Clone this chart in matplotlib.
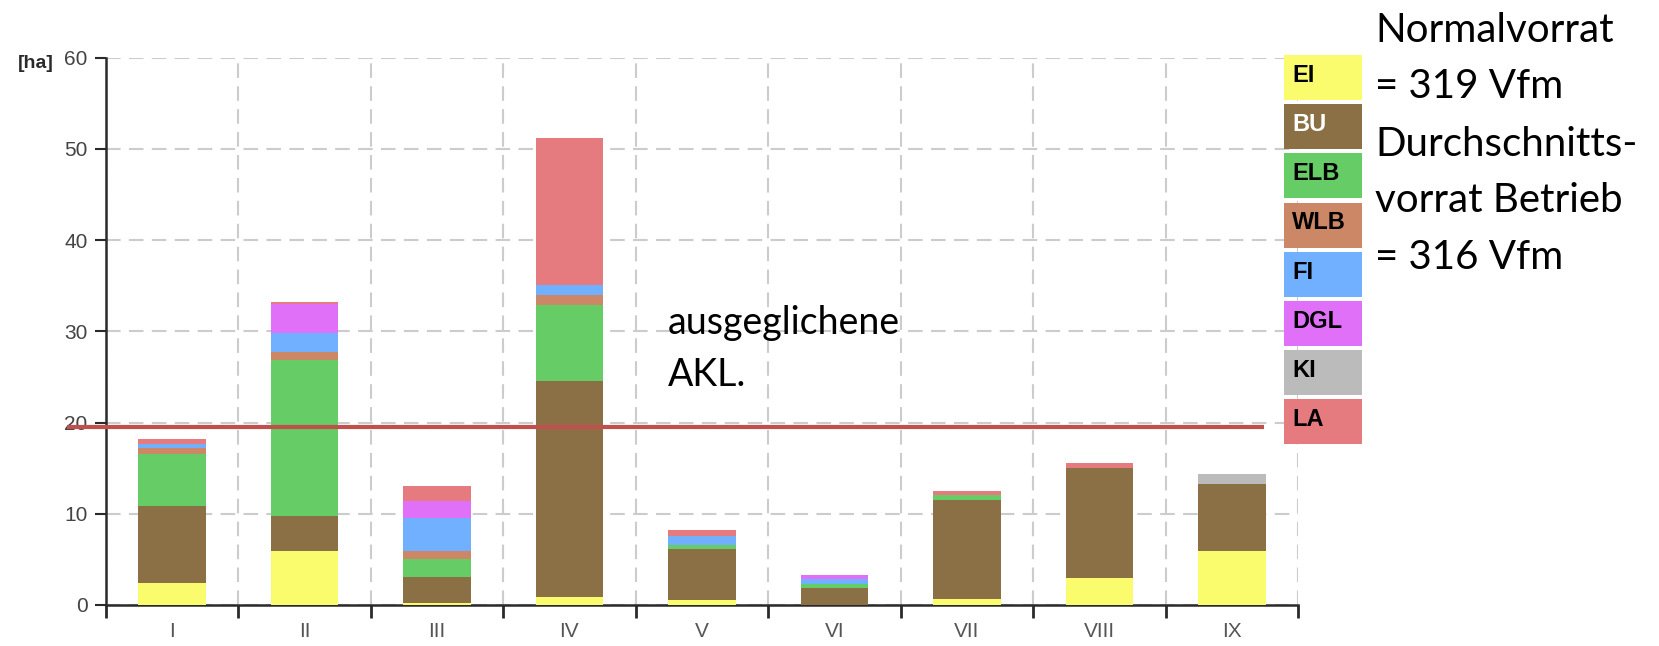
import matplotlib.pyplot as plt
import numpy as np
from matplotlib.patches import Rectangle

# Flächen je Altersklasse und Baumart [ha], von unten nach oben gestapelt
categories = ["I", "II", "III", "IV", "V", "VI", "VII", "VIII", "IX"]
species = ["EI", "BU", "ELB", "WLB", "FI", "DGL", "KI", "LA"]
ei = [2.4, 5.9, 0.2, 0.85, 0.6, 0.05, 0.65, 3.0, 5.95]
bu = [8.5, 3.9, 2.85, 23.65, 5.5, 1.8, 10.9, 12.05, 7.3]
elb = [5.6, 17.1, 1.95, 8.4, 0.45, 0.45, 0.5, 0.0, 0.0]
wlb = [0.7, 0.8, 0.9, 1.1, 0.0, 0.0, 0.0, 0.0, 0.0]
fi = [0.4, 2.1, 3.6, 1.1, 1.0, 0.5, 0.0, 0.0, 0.0]
dgl = [0.0, 3.2, 1.9, 0.0, 0.0, 0.5, 0.0, 0.0, 0.0]
ki = [0.0, 0.0, 0.0, 0.0, 0.0, 0.0, 0.0, 0.0, 1.1]
la = [0.6, 0.2, 1.6, 16.1, 0.65, 0.0, 0.45, 0.55, 0.0]
akl_level = 19.5  # ausgeglichene Altersklasse

colors = ["#fbfb6e", "#8b7045", "#66cc66", "#cc8866", "#70b0ff", "#e070f8", "#bbbbbb", "#e57b7e"]
label_colors = ["black", "white", "black", "black", "black", "black", "black", "black"]

side_text = ["Normalvorrat", "= 319 Vfm", "Durchschnitts-", "vorrat Betrieb", "= 316 Vfm"]
akl_text = ["ausgeglichene", "AKL."]

W, H = 1659, 646
BAR_WIDTH = 0.51
AXIS_COLOR = "#2a2a2a"
GRID_STYLE = dict(color="#cccccc", lw=1.5, ls=(0, (7, 4)))


def px(x, y):
    """pixel position (from top-left) -> figure fraction"""
    return x / W, 1 - y / H


fig = plt.figure(figsize=(W / 100, H / 100), dpi=100)
ax = fig.add_axes([105.8 / W, 1 - 605 / H, (1298 - 105.8) / W, (605 - 57.5) / H])

x = np.arange(len(categories))
bottom = np.zeros(len(categories))
for name, vals, col in zip(species, [ei, bu, elb, wlb, fi, dgl, ki, la], colors):
    ax.bar(x, vals, BAR_WIDTH, bottom=bottom, color=col, label=name, zorder=3)
    bottom += np.array(vals)

ax.set_xlim(-0.5, len(categories) - 0.5)
ax.set_ylim(0, 60)
ax.set_yticks(range(0, 61, 10))
ax.set_xticks(x)
ax.set_xticklabels(categories)
ax.set_xticks(np.arange(-0.5, len(categories)), minor=True)

for side in ["top", "right"]:
    ax.spines[side].set_visible(False)
for side in ["left", "bottom"]:
    ax.spines[side].set_color(AXIS_COLOR)
    ax.spines[side].set_linewidth(1.8)

ax.tick_params(axis="y", direction="out", length=8, width=1.5, color=AXIS_COLOR,
               labelsize=15, labelcolor="#444444", pad=5)
ax.tick_params(axis="x", which="major", length=0, labelsize=15, labelcolor="#555555", pad=12)
ax.tick_params(axis="x", which="minor", direction="out", length=9, width=2, color=AXIS_COLOR)
for lab in ax.get_xticklabels() + ax.get_yticklabels():
    lab.set_family("Liberation Sans")

ax.grid(which="major", axis="y", **GRID_STYLE)
ax.grid(which="minor", axis="x", **GRID_STYLE)
ax.set_axisbelow(True)

ax.plot([-0.79, 8.24], [akl_level, akl_level], color="#c0504d", lw=3,
        clip_on=False, zorder=5, solid_capstyle="butt")

fig.text(*px(18, 64), "[ha]", fontsize=14, weight="bold", color=AXIS_COLOR,
         family="Liberation Sans", va="center", ha="left")

# legend boxes
box_h, step = 45, 49.2
for i, (name, col, tcol) in enumerate(zip(species, colors, label_colors)):
    top = 55 + i * step
    x0, y0 = px(1284, top + box_h)
    fig.add_artist(Rectangle((x0, y0), 77.5 / W, box_h / H, transform=fig.transFigure,
                             facecolor=col, edgecolor="none", zorder=6))
    fig.text(*px(1292, top + box_h * 0.45), name, fontsize=17, weight="bold", color=tcol,
             family="Liberation Sans", va="center", ha="left", zorder=7)

for i, line in enumerate(side_text):
    fig.text(*px(1375, 30 + i * 57), line, fontsize=29, family="Lato",
             va="center", ha="left")
for i, line in enumerate(akl_text):
    fig.text(*px(668, 323 + i * 52), line, fontsize=27, family="Lato",
             va="center", ha="left")

fig.savefig("out.png", facecolor="white")
